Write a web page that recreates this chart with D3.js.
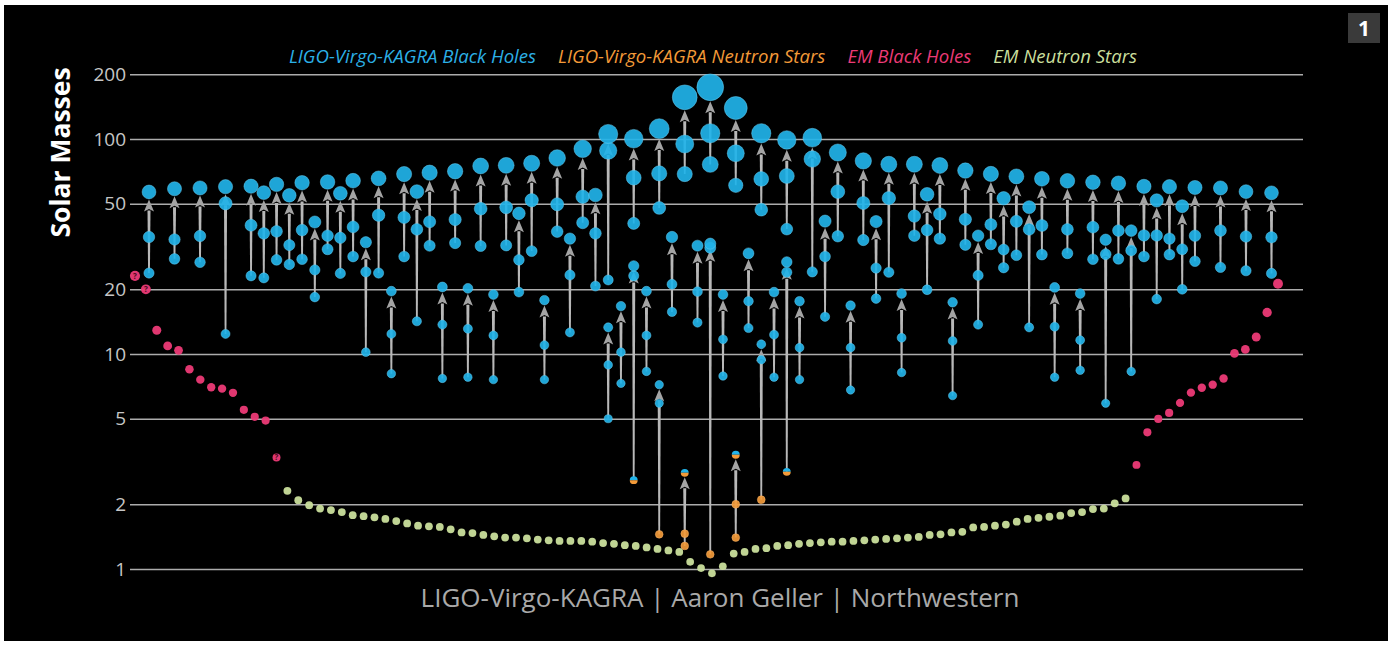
<!DOCTYPE html>
<html>
<head>
<meta charset="utf-8">
<script src="https://cdn.jsdelivr.net/npm/d3@7"></script>
<style>
  html, body { margin: 0; padding: 0; background: #fff; }
  svg { display: block; }
  text { font-family: "Open Sans", "DejaVu Sans", sans-serif; }
</style>
</head>
<body>
<svg id="chart" width="1393" height="645"></svg>
<script>
// ---------------- DATA ----------------
const yTicks = [1, 2, 5, 10, 20, 50, 100, 200];

const legendLabels = ["LIGO-Virgo-KAGRA Black Holes", "LIGO-Virgo-KAGRA Neutron Stars", "EM Black Holes", "EM Neutron Stars"];

// Gravitational-wave events: slot (horizontal order), final mass, primary, secondary
const gwSlot = [0,2,4,6,8,9,10,11,12,13,14,15,16,17,18,19,20,21,22,23,24,25,26,27,28,29,30,31,32,33,34,35,
  36,36,37,38,38,39,40,40,41,42,42,43,44,44,45,46,46,47,48,48,49,50,50,51,52,
  53,54,55,56,57,58,59,60,61,62,63,64,65,66,67,68,69,70,71,72,73,74,75,76,77,78,79,80,81,82,84,86,88];
const gwFinal = [56.7,58.7,59.2,60.0,60.3,56.3,61.5,54.7,62.6,41.1,63.1,55.9,64.0,33.1,65.6,19.6,68.7,56.9,69.7,20.5,70.8,20.2,74.9,18.9,75.4,45.1,77.1,17.8,81.6,34.4,90.0,54.9,
  105.5,13.3,16.7,100.3,25.7,19.6,111.7,7.2,35.0,156.3,2.8,31.9,174,32.6,18.9,139.4,3.4,29.4,106.3,11.1,19.4,99.0,26.8,17.6,101.4,
  41.5,86.5,16.8,79.1,41.3,76.3,19.1,76.3,55.3,75.3,17.4,71.3,35.5,68.8,53.0,67.0,48.2,65.3,20.4,63.9,19.1,62.9,34.0,62.3,37.5,60.2,51.8,60.0,48.7,59.5,59.2,56.9,56.2];
const gwM1 = [35.0,34.1,35.4,50.2,39.7,36.4,37.2,32.1,37.7,24.6,35.5,34.7,39.0,24.1,44.2,12.4,43.2,38.0,41.2,13.7,42.2,13.1,47.4,12.2,48.1,27.4,51.9,11.0,49.7,23.3,53.9,36.4,
  88.3,8.9,10.2,66.1,23.1,12.2,69.2,5.9,21.1,94.8,1.46,19.5,106.3,31.2,11.7,85.8,2.0,17.6,65.2,9.4,12.3,67.3,24.0,10.7,80.7,
  28.4,56.9,10.7,50.4,25.1,53.1,11.9,43.8,37.7,44.8,11.5,42.3,23.2,40.0,30.6,41.4,38.0,39.6,13.4,38.0,11.6,38.9,29.1,37.5,30.3,35.6,35.6,34.4,30.7,35.5,37.5,35.2,34.9];
const gwM2 = [23.8,27.7,26.7,12.4,23.1,22.6,27.4,26.1,27.6,18.4,30.7,23.7,28.4,10.2,23.8,8.1,28.4,14.2,31.9,7.7,32.8,7.8,31.8,7.6,32.0,19.4,30.1,7.6,37.1,12.6,40.8,20.7,
  22.1,5.0,7.3,40.5,2.59,8.3,47.8,1.45,15.7,68.7,1.28,14.0,76.2,1.17,7.9,60.9,1.40,13.2,46.9,2.1,7.8,38.1,2.83,7.6,24.1,
  14.9,35.3,6.8,33.9,18.1,24.0,8.2,35.5,19.9,34.4,6.4,32.2,13.7,32.4,25.2,28.8,13.3,29.0,7.8,29.4,8.4,27.6,5.9,27.7,8.3,28.4,18.0,29.0,20.0,27.0,25.3,24.4,23.7];
// object type for final / primary / secondary: B = black hole, N = neutron star, S = uncertain (half/half)
const gwFinalType = gwSlot.map((s, i) => (i === 42 || i === 48) ? "S" : "B");
const gwM1Type    = gwSlot.map((s, i) => (i === 42 || i === 48) ? "N" : "B");
const gwM2Type    = gwSlot.map((s, i) => ([36, 54].includes(i)) ? "S" : ([39, 42, 45, 48, 51].includes(i) ? "N" : "B"));

// Electromagnetic observations (ordered left to right)
const emBHLeft  = [23.1, 20.0, 12.9, 10.9, 10.4, 8.5, 7.6, 7.0, 6.9, 6.6, 5.5, 5.1, 4.9, 3.3];
const emBHLeftUncertain = [0, 1, 13];
const emNS = [2.31,2.09,1.98,1.91,1.88,1.84,1.78,1.76,1.74,1.71,1.67,1.63,1.59,1.58,1.57,1.53,1.48,1.47,1.44,1.42,1.40,1.40,1.39,1.37,1.36,1.35,1.35,1.35,1.34,1.32,1.31,1.29,1.28,1.26,1.24,1.22,1.20,
  1.08,1.01,0.955,1.03,
  1.18,1.20,1.24,1.25,1.28,1.29,1.31,1.32,1.33,1.34,1.34,1.35,1.36,1.37,1.38,1.39,1.40,1.41,1.44,1.45,1.48,1.49,1.56,1.57,1.59,1.61,1.66,1.71,1.73,1.75,1.77,1.82,1.84,1.90,1.91,2.02,2.13];
const emBHRight = [3.05, 4.32, 4.99, 5.32, 5.92, 6.61, 6.97, 7.2, 7.7, 10.07, 10.5, 12.0, 15.6, 21.2];

// ---------------- CHART ----------------
const C = { blue: "#21b3e9", blueRim: "#6dd0f4", orange: "#f39a38", pink: "#ec3a76", green: "#cadf9c",
            legBlue: "#2cb0e6", grid: "#acacac", tick: "#c6c6c6", line: "#b8b8b8", head: "#a4a4a4" };

const svg = d3.select("#chart");
svg.append("rect").attr("x", 4).attr("y", 5).attr("width", 1384).attr("height", 636).attr("fill", "#000");

const plotL = 130, plotR = 1303;
const y = d3.scaleLog().domain([1, 200]).range([569, 569 - 215 * Math.log10(200)]);
const gwX = d3.scaleLinear().domain([0, 88]).range([149, 1271.5]);
const emCount = emBHLeft.length + emNS.length + emBHRight.length;
const emX = d3.scaleLinear().domain([0, emCount - 1]).range([135, 1278]);
const r = d3.scaleLinear().domain([0, 200]).range([3.8, 14.8]);

// axis + grid
const axis = d3.axisLeft(y).tickValues(yTicks).tickFormat(d3.format("d"))
  .tickSize(-(plotR - plotL)).tickPadding(4);
const gAxis = svg.append("g").attr("transform", `translate(${plotL},0)`).call(axis);
gAxis.select(".domain").remove();
gAxis.selectAll(".tick line").attr("stroke", C.grid).attr("stroke-width", 1.6);
gAxis.selectAll(".tick text").attr("fill", C.tick).attr("font-size", 19)
  .attr("font-family", "'Open Sans', 'DejaVu Sans', sans-serif");

svg.append("text").attr("transform", "translate(70,152.5) rotate(-90)")
  .attr("text-anchor", "middle").attr("fill", "#fff").attr("font-size", 26.5).attr("font-weight", 700)
  .text("Solar Masses");

// legend
const legendColors = [C.legBlue, C.orange, C.pink, C.green];
const gLeg = svg.append("g");
const legTexts = legendLabels.map((t, i) => gLeg.append("text").attr("y", 63).attr("font-size", 18.6)
  .attr("font-style", "italic").attr("fill", legendColors[i]).text(t));
const widths = legTexts.map(t => t.node().getComputedTextLength());
const gap = 22;
const total = d3.sum(widths) + gap * (widths.length - 1);
let cx = 713 - total / 2;
legTexts.forEach((t, i) => { t.attr("x", cx); cx += widths[i] + gap; });

// credit
svg.append("text").attr("x", 720).attr("y", 607).attr("text-anchor", "middle")
  .attr("font-size", 26).attr("fill", "#a9a9a9").text("LIGO-Virgo-KAGRA | Aaron Geller | Northwestern");

// badge
svg.append("rect").attr("x", 1348).attr("y", 13).attr("width", 32).attr("height", 30).attr("fill", "#3a3a3a");
svg.append("text").attr("x", 1364).attr("y", 36).attr("text-anchor", "middle").attr("font-size", 21)
  .attr("font-weight", 700).attr("fill", "#fff").text("1");

// ---- GW events ----
const events = gwSlot.map((s, i) => ({
  x: gwX(s), f: gwFinal[i], m1: gwM1[i], m2: gwM2[i],
  tf: gwFinalType[i], t1: gwM1Type[i], t2: gwM2Type[i]
}));

const gLines = svg.append("g");
const gHeads = svg.append("g");
const gDots = svg.append("g");

events.forEach(e => {
  const yLow = y(Math.min(e.m1, e.m2));
  const tip = y(e.f) + r(e.f) + 0.5;
  const headH = 11, headW = 5;
  if (yLow - tip > 2) {
    const base = tip + headH;
    if (yLow > base) {
      gLines.append("path")
        .attr("d", `M${e.x - 0.9},${yLow} L${e.x + 0.9},${yLow} L${e.x + 1.5},${base} L${e.x - 1.5},${base} Z`)
        .attr("fill", C.line);
    }
    gHeads.append("path")
      .attr("d", `M${e.x},${tip} L${e.x + headW},${base + 1} L${e.x},${base - 1.5} L${e.x - headW},${base + 1} Z`)
      .attr("fill", C.head);
  }
});

const halfTop = d3.arc().innerRadius(0).startAngle(-Math.PI / 2).endAngle(Math.PI / 2);
const halfBot = d3.arc().innerRadius(0).startAngle(Math.PI / 2).endAngle(3 * Math.PI / 2);

function drawBody(g, x, m, type) {
  const yy = y(m), rr = r(m);
  if (type === "S") {
    g.append("path").attr("transform", `translate(${x},${yy})`).attr("d", halfTop.outerRadius(rr)()).attr("fill", C.blue);
    g.append("path").attr("transform", `translate(${x},${yy})`).attr("d", halfBot.outerRadius(rr)()).attr("fill", C.orange);
  } else {
    g.append("circle").attr("cx", x).attr("cy", yy).attr("r", rr)
      .attr("fill", type === "N" ? C.orange : C.blue)
      .attr("fill-opacity", 0.92)
      .attr("stroke", type === "N" ? "#f7b36a" : C.blueRim).attr("stroke-width", 0.8).attr("stroke-opacity", 0.6);
  }
}

events.forEach(e => {
  drawBody(gDots, e.x, e.m2, e.t2);
  drawBody(gDots, e.x, e.m1, e.t1);
  drawBody(gDots, e.x, e.f, e.tf);
});

// ---- EM observations ----
const em = [];
emBHLeft.forEach((m, i) => em.push({ m, kind: "BH", q: emBHLeftUncertain.includes(i) }));
emNS.forEach(m => em.push({ m, kind: "NS", q: false }));
emBHRight.forEach(m => em.push({ m, kind: "BH", q: false }));

const gEM = svg.append("g");
em.forEach((d, i) => {
  const xx = emX(i), yy = y(d.m);
  gEM.append("circle").attr("cx", xx).attr("cy", yy).attr("r", r(d.m))
    .attr("fill", d.kind === "BH" ? C.pink : C.green).attr("fill-opacity", 0.95);
  if (d.q) {
    gEM.append("text").attr("x", xx).attr("y", yy + 2.8).attr("text-anchor", "middle")
      .attr("font-size", 8).attr("font-weight", 700).attr("fill", "#4a0a20").text("?");
  }
});
</script>
</body>
</html>
